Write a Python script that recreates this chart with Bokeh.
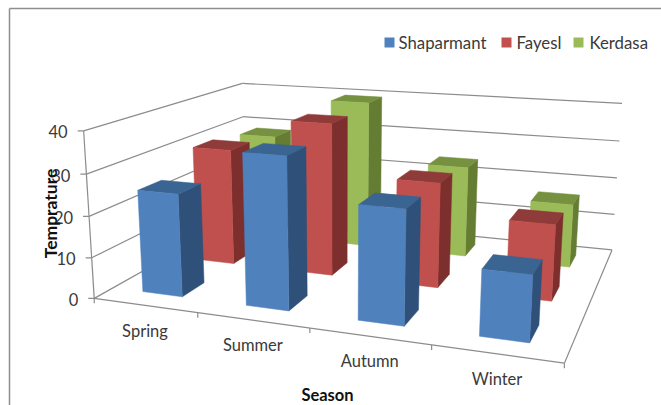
import numpy as np
from bokeh.core.properties import value
from bokeh.embed import file_html
from bokeh.plotting import figure
from bokeh.resources import INLINE

# Chart data
seasons = ["Spring", "Summer", "Autumn", "Winter"]
series_names = ["Shaparmant", "Fayesl", "Kerdasa"]
shaparmant = [25, 36, 26.5, 15]
fayesl = [30, 38.5, 26, 18.5]
kerdasa = [28.5, 39.5, 24, 16.5]
temperature_ticks = [0, 10, 20, 30, 40]

front_colors = ["#4F81BD", "#C0504D", "#9BBB59"]
top_colors = ["#3A6491", "#8F3B39", "#76913F"]
side_colors = ["#2F5078", "#7C2F2D", "#647D32"]
GRID = "#8C8C8C"

# Camera: anchors tie (season, series depth, temperature) to page positions,
# and a projective matrix is solved from them.
anchors = [
    ((0, 0, 0), (94, 297)), ((0, 0, 10), (91, 257)), ((0, 0, 20), (89, 215)),
    ((0, 0, 30), (86, 173)), ((0, 0, 40), (83, 130)),
    ((4, 0, 0), (563, 361)), ((4, 3, 0), (612, 248)), ((4, 3, 10), (614, 214)),
    ((4, 3, 20), (616, 177)), ((4, 3, 30), (619, 141)), ((4, 3, 40), (622, 103)),
    ((0, 3, 30), (242, 117)), ((0, 3, 40), (242, 83)), ((1, 0, 0), (197, 313)),
    ((2, 0, 0), (310, 329)), ((3, 0, 0), (431, 347)),
]
rows = []
for (a, b, c), (sx, sy) in anchors:
    rows.append([a, b, c / 10, 1, 0, 0, 0, 0, -sx * a, -sx * b, -sx * c / 10, -sx])
    rows.append([0, 0, 0, 0, a, b, c / 10, 1, -sy * a, -sy * b, -sy * c / 10, -sy])
camera = np.linalg.svd(np.array(rows, float))[2][-1].reshape(3, 4)


def project(u, v, w):
    px, py, pw = camera @ np.array([u, v, w / 10, 1.0])
    return px / pw, py / pw


p = figure(width=661, height=405, x_range=(0, 661), y_range=(405, 0),
           x_axis_location=None, y_axis_location=None, min_border=0,
           toolbar_location=None, output_backend="svg", outline_line_color=None,
           background_fill_color="white")
p.grid.visible = False


def segment(a, b, color=GRID, width=1.2):
    x0, y0 = project(*a)
    x1, y1 = project(*b)
    p.line([x0, x1], [y0, y1], line_color=color, line_width=width)


def label(x, y, text, size, color="#3A3A3A", style="normal", angle=0, align="center"):
    p.text([x], [y], text=[text], text_font=value("Lato"), text_font_size=f"{size}px",
           text_color=color, text_font_style=style, angle=angle,
           text_align=align, text_baseline="middle")


# Chart-area border
p.line([9, 9], [405, 8], line_color="#8E8E8E", line_width=1.5)
p.line([9, 661], [8, 8], line_color="#8E8E8E", line_width=1.5)

# Walls and floor
for t in temperature_ticks:
    segment((0, 0, t), (0, 3, t))
    segment((0, 3, t), (4, 3, t))
    x, y = project(0, 0, t)
    p.line([x - 6, x], [y, y], line_color=GRID, line_width=1.2)
    label(x - 16, y + 1, str(t), 16.5, align="right")
segment((0, 0, 0), (0, 0, 40))
segment((0, 0, 0), (4, 0, 0))
segment((4, 0, 0), (4, 3, 0))
for i in range(5):
    x, y = project(i, 0, 0)
    p.line([x, x], [y, y + 5], line_color=GRID, line_width=1.2)

# Bars, painted from the back row forward
GAP_U, BAR_U = 0.30, 0.39
GAP_V, BAR_V = 0.30, 0.40
for row in (2, 1, 0):
    values = [shaparmant, fayesl, kerdasa][row]
    for col, val in enumerate(values):
        u0, u1 = col + GAP_U, col + GAP_U + BAR_U
        v0, v1 = row + GAP_V, row + GAP_V + BAR_V
        faces = [
            ([(u1, v0, 0), (u1, v1, 0), (u1, v1, val), (u1, v0, val)], side_colors[row]),
            ([(u0, v0, val), (u1, v0, val), (u1, v1, val), (u0, v1, val)], top_colors[row]),
            ([(u0, v0, 0), (u1, v0, 0), (u1, v0, val), (u0, v0, val)], front_colors[row]),
        ]
        for corners, color in faces:
            pts = [project(*c) for c in corners]
            p.patch([q[0] for q in pts], [q[1] for q in pts], fill_color=color,
                    line_color=color, line_width=0.5)

# Category labels
for i, name in enumerate(seasons):
    x0, y0 = project(i, 0, 0)
    x1, y1 = project(i + 1, 0, 0)
    label((x0 + x1) / 2 - 1, (y0 + y1) / 2 + 25, name, 16.5)

# Axis titles
label(50, 213, "Temprature", 17.5, color="#111111", style="bold", angle=np.pi / 2)
label(327, 394, "Season", 16.5, color="#111111", style="bold")

# Legend
for name, color, sq_x, txt_x in zip(series_names, front_colors, [384, 501, 573], [398, 516, 589]):
    p.quad(left=sq_x, right=sq_x + 10, top=37, bottom=47, fill_color=color, line_color=None)
    label(txt_x, 42, name, 16.8, align="left")

open("out.html", "w").write(file_html(p, INLINE))
